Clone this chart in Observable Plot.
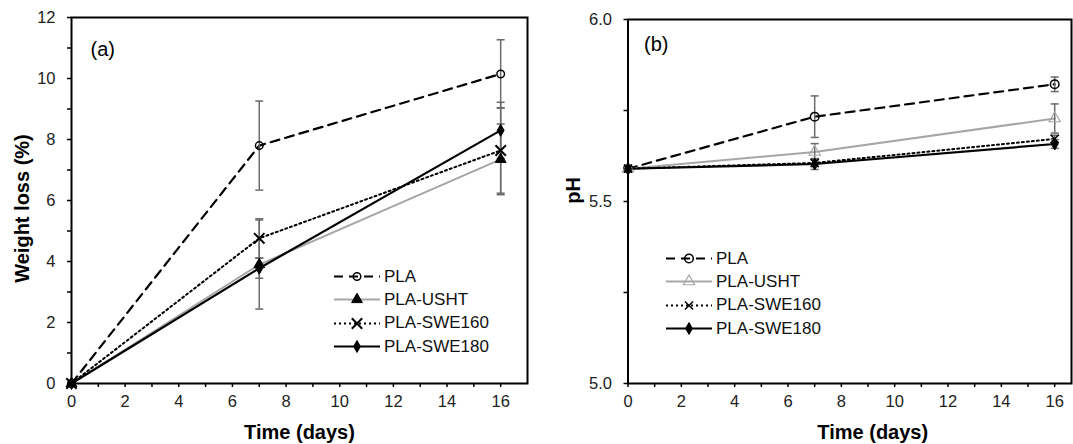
<!DOCTYPE html>
<html><head><meta charset="utf-8">
<script src="https://cdn.jsdelivr.net/npm/d3@7"></script>
<script src="https://cdn.jsdelivr.net/npm/@observablehq/plot@0.6"></script>
<style>
html,body{margin:0;padding:0;background:#fff;}
#wrap{position:relative;width:1073px;height:444px;display:flex;font-family:"Liberation Sans",Arial,sans-serif;overflow:hidden;}
.legend{position:absolute;font-size:17px;color:#111;font-family:"Liberation Sans",Arial,sans-serif;}
.legend .row{display:flex;align-items:center;height:23.3px;}
.legend .row span{margin-left:4px;}
</style></head><body><div id="wrap"></div>
<script>
// ---- data ----
const days = [0, 7, 16];
const seriesNames = ["PLA", "PLA-USHT", "PLA-SWE160", "PLA-SWE180"];

// (a) weight loss (%)
const weightPLA      = [0, 7.80, 10.15];
const weightPLAErr   = [0, 1.46, 1.12];
const weightUSHT     = [0, 3.90, 7.35];
const weightUSHTErr  = [0, 1.46, 1.16];
const weightSWE160   = [0, 4.76, 7.64];
const weightSWE160Err= [0, 0.64, 1.40];
const weightSWE180   = [0, 3.78, 8.30];
const weightSWE180Err= [0, 0.33, 0.92];

// (b) pH
const phPLA      = [5.59, 5.733, 5.822];
const phPLAErr   = [0, 0.057, 0.02];
const phUSHT     = [5.59, 5.636, 5.728];
const phUSHTErr  = [0, 0.023, 0.04];
const phSWE160   = [5.59, 5.606, 5.672];
const phSWE160Err= [0, 0.010, 0.010];
const phSWE180   = [5.59, 5.603, 5.658];
const phSWE180Err= [0, 0.015, 0.012];

const xTicks = [0,1,2,3,4,5,6,7,8,9,10,11,12,13,14,15,16];
const weightTicks = [0,1,2,3,4,5,6,7,8,9,10,11,12];
const phTicks = [5.0, 5.25, 5.5, 5.75, 6.0];

// ---- build tables ----
function table(vals, errs) {
  const rows = [];
  seriesNames.forEach((s, i) => days.forEach((d, j) => rows.push({series: s, day: d, v: vals[i][j], e: errs[i][j]})));
  return rows;
}
const weightRows = table([weightPLA, weightUSHT, weightSWE160, weightSWE180],
                         [weightPLAErr, weightUSHTErr, weightSWE160Err, weightSWE180Err]);
const phRows = table([phPLA, phUSHT, phSWE160, phSWE180],
                     [phPLAErr, phUSHTErr, phSWE160Err, phSWE180Err]);

const capSymbol = {draw(ctx, size) { const w = Math.sqrt(size / Math.PI); ctx.moveTo(-w, 0); ctx.lineTo(w, 0); }};

function styleFor(panel) {
  const a = panel === "a";
  return {
    "PLA":        {stroke: "#000", dash: "9,6", width: 2.2, symbol: "circle", fill: "none", mstroke: "#000", r: a ? 3.8 : 4.3, msw: 1.5},
    "PLA-USHT":   {stroke: "#a6a6a6", dash: null, width: 2, symbol: "triangle", fill: a ? "#000" : "none", mstroke: a ? "#000" : "#a6a6a6", r: a ? 4 : 4.2, msw: a ? 1 : 1.2},
    "PLA-SWE160": {stroke: "#000", dash: "2,3", width: 2, symbol: "times", fill: "none", mstroke: "#000", r: a ? 4.8 : 3.8, msw: a ? 2 : 1.5},
    "PLA-SWE180": {stroke: "#000", dash: null, width: 2.2, symbol: "diamond", fill: "#000", mstroke: "#000", r: a ? 3.6 : 3.6, msw: 1}
  };
}

function panel(opts) {
  const st = styleFor(opts.key);
  const rows = opts.rows;
  const errRows = rows.filter(d => d.e > 0);
  const marks = [];
  for (const s of seriesNames) {
    const sd = st[s];
    marks.push(Plot.line(rows.filter(d => d.series === s), {x: "day", y: "v", stroke: sd.stroke, strokeWidth: sd.width, strokeDasharray: sd.dash}));
  }
  marks.push(Plot.ruleX(errRows, {x: "day", y1: d => d.v - d.e, y2: d => d.v + d.e, stroke: "#6b6b6b", strokeWidth: 1.5}));
  marks.push(Plot.dot(errRows, {x: "day", y: d => d.v + d.e, symbol: capSymbol, r: 4, fill: "none", stroke: "#6b6b6b", strokeWidth: 1.5}));
  marks.push(Plot.dot(errRows, {x: "day", y: d => d.v - d.e, symbol: capSymbol, r: 4, fill: "none", stroke: "#6b6b6b", strokeWidth: 1.5}));
  for (const s of seriesNames) {
    const sd = st[s];
    marks.push(Plot.dot(rows.filter(d => d.series === s), {x: "day", y: "v", symbol: sd.symbol, r: sd.r, fill: sd.fill, stroke: sd.mstroke, strokeWidth: sd.msw}));
  }
  marks.push(Plot.frame({stroke: "#000", strokeWidth: 2}));
  marks.push(Plot.axisX({ticks: xTicks, tickSize: 4, tickPadding: 8, tickFormat: d => d % 2 === 0 ? String(d) : "", label: null, strokeWidth: 1.5, fill: "#222", fontSize: 16.5}));
  marks.push(Plot.axisY({ticks: opts.yTicks, tickSize: 4, tickPadding: 12, tickFormat: opts.yFormat, label: null, strokeWidth: 1.5, fill: "#222", fontSize: 16.5}));
  marks.push(Plot.text(["Time (days)"], {frameAnchor: "bottom", textAnchor: "middle", lineAnchor: "middle", dy: 49, dx: opts.xTitleDx, fontSize: 20, fontWeight: "bold", fill: "#000"}));
  marks.push(Plot.text([opts.yTitle], {frameAnchor: "left", textAnchor: "middle", lineAnchor: "middle", rotate: -90, dx: opts.yTitleDx, dy: opts.yTitleDy, fontSize: 20, fontWeight: "bold", fill: "#000"}));
  marks.push(Plot.text([opts.tag], {frameAnchor: "top-left", textAnchor: "start", lineAnchor: "middle", dx: opts.tagDx, dy: opts.tagDy, fontSize: 20, fill: "#000"}));
  return Plot.plot({
    width: opts.width, height: 444,
    marginLeft: opts.ml, marginRight: opts.mr, marginTop: opts.mt, marginBottom: opts.mb,
    x: {domain: opts.xDomain},
    y: {domain: opts.yDomain},
    style: {fontFamily: "'Liberation Sans', Arial, sans-serif", fontSize: "16px", color: "#000", background: "#fff", overflow: "visible"},
    marks
  });
}

const wrap = document.getElementById("wrap");
wrap.appendChild(panel({
  key: "a", rows: weightRows, width: 540, ml: 71, mr: 13, mt: 17, mb: 61,
  xDomain: [0, 17], yDomain: [0, 12], yTicks: weightTicks,
  yFormat: d => d % 2 === 0 ? String(d) : "",
  yTitle: "Weight loss (%)", yTitleDx: -49, yTitleDy: 8, xTitleDx: 0,
  tag: "(a)", tagDx: 19, tagDy: 32
}));
wrap.appendChild(panel({
  key: "b", rows: phRows, width: 533, ml: 87.5, mr: 2, mt: 19, mb: 61,
  xDomain: [0, 16.63], yDomain: [5.0, 6.0], yTicks: phTicks,
  yFormat: d => (Math.round(d * 100) % 50 === 0) ? d.toFixed(1) : "",
  yTitle: "pH", yTitleDx: -54, yTitleDy: -11, xTitleDx: 23,
  tag: "(b)", tagDx: 16, tagDy: 25
}));

// ---- legends ----
function legend(key, left, top) {
  const st = styleFor(key);
  const div = document.createElement("div");
  div.className = "legend";
  div.style.left = left + "px";
  div.style.top = top + "px";
  for (const s of seriesNames) {
    const sd = st[s];
    const row = document.createElement("div");
    row.className = "row";
    const svg = d3.create("svg").attr("width", 46).attr("height", 23);
    svg.append("line").attr("x1", 0).attr("x2", 46).attr("y1", 11.5).attr("y2", 11.5)
      .attr("stroke", sd.stroke).attr("stroke-width", sd.width).attr("stroke-dasharray", sd.dash);
    const typ = {circle: d3.symbolCircle, triangle: d3.symbolTriangle, times: d3.symbolTimes, diamond: d3.symbolDiamond}[sd.symbol];
    svg.append("path").attr("transform", "translate(23,11.5)")
      .attr("d", d3.symbol(typ, sd.r * sd.r * Math.PI)())
      .attr("fill", sd.fill === "none" ? "none" : sd.fill).attr("stroke", sd.mstroke).attr("stroke-width", sd.msw);
    row.appendChild(svg.node());
    const t = document.createElement("span");
    t.textContent = s;
    row.appendChild(t);
    div.appendChild(row);
  }
  wrap.appendChild(div);
}
legend("a", 334, 265);
legend("b", 666, 247);
</script></body></html>
